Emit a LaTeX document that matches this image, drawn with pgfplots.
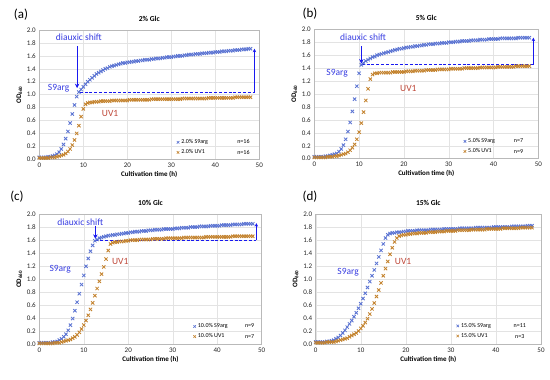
\documentclass[border=0pt]{standalone}
\usepackage{fontspec}
\setmainfont{Carlito}
\usepackage{pgfplots}
\pgfplotsset{compat=1.18}
\usepackage{pgfplotstable}
\usetikzlibrary{arrows.meta}
\definecolor{cS}{RGB}{90,115,210}
\definecolor{cU}{RGB}{195,130,45}
\definecolor{tB}{RGB}{55,60,225}
\definecolor{tR}{RGB}{190,70,55}
\definecolor{aB}{RGB}{25,25,240}

\pgfplotstableread{
t as au bs bu cs cu ds du
0 0.03 0.02 0.03 0.02 0.03 0.02 0.03 0.02
0.5 0.03 0.02 0.03 0.02 0.03 0.02 0.03 0.02
1 0.03 0.02 0.03 0.02 0.03 0.02 0.03 0.02
1.5 0.03 0.02 0.03 0.02 0.03 0.02 0.03 0.02
2 0.04 0.02 0.03 0.02 0.03 0.02 0.03 0.02
2.5 0.04 0.03 0.04 0.02 0.03 0.02 0.04 0.03
3 0.05 0.03 0.04 0.03 0.04 0.02 0.04 0.03
3.5 0.06 0.03 0.05 0.03 0.04 0.03 0.05 0.03
4 0.08 0.04 0.06 0.03 0.05 0.03 0.06 0.03
4.5 0.11 0.05 0.07 0.04 0.07 0.03 0.08 0.04
5 0.16 0.06 0.08 0.04 0.09 0.04 0.10 0.05
5.5 0.23 0.07 0.11 0.05 0.12 0.05 0.13 0.06
6 0.32 0.09 0.15 0.06 0.16 0.06 0.17 0.07
6.5 0.43 0.12 0.21 0.07 0.22 0.07 0.21 0.08
7 0.56 0.16 0.30 0.08 0.30 0.08 0.26 0.09
7.5 0.70 0.22 0.42 0.10 0.40 0.10 0.31 0.11
8 0.84 0.30 0.56 0.13 0.52 0.12 0.36 0.13
8.5 0.97 0.40 0.73 0.17 0.65 0.15 0.42 0.15
9 1.04 0.52 0.92 0.22 0.78 0.19 0.48 0.17
9.5 1.08 0.66 1.12 0.30 0.92 0.24 0.55 0.20
10 1.12 0.78 1.32 0.41 1.06 0.30 0.62 0.24
10.5 1.16 0.85 1.45 0.55 1.20 0.37 0.70 0.28
11 1.20 0.87 1.48 0.72 1.32 0.45 0.78 0.33
11.5 1.23 0.88 1.51 0.90 1.43 0.54 0.87 0.39
12 1.26 0.88 1.53 1.08 1.52 0.64 0.96 0.46
12.5 1.29 0.89 1.55 1.23 1.59 0.75 1.05 0.54
13 1.32 0.89 1.57 1.30 1.61 0.86 1.14 0.63
13.5 1.34 0.89 1.58 1.32 1.63 0.97 1.24 0.73
14 1.36 0.90 1.60 1.32 1.64 1.08 1.34 0.83
14.5 1.38 0.90 1.61 1.33 1.65 1.19 1.44 0.94
15 1.40 0.90 1.62 1.33 1.66 1.31 1.54 1.05
15.5 1.41 0.90 1.63 1.33 1.67 1.44 1.63 1.16
16 1.43 0.90 1.64 1.33 1.67 1.54 1.68 1.27
16.5 1.44 0.91 1.65 1.33 1.68 1.56 1.70 1.38
17 1.45 0.91 1.66 1.33 1.68 1.57 1.71 1.48
17.5 1.46 0.91 1.67 1.34 1.69 1.57 1.71 1.57
18 1.47 0.91 1.68 1.34 1.69 1.58 1.72 1.63
18.5 1.48 0.91 1.69 1.34 1.70 1.58 1.72 1.66
19 1.49 0.91 1.70 1.34 1.70 1.58 1.72 1.67
19.5 1.49 0.91 1.70 1.34 1.71 1.59 1.73 1.68
20 1.50 0.91 1.71 1.34 1.71 1.59 1.73 1.68
20.5 1.50 0.92 1.72 1.35 1.72 1.60 1.74 1.69
21 1.51 0.92 1.72 1.35 1.72 1.60 1.74 1.69
21.5 1.51 0.92 1.73 1.35 1.73 1.60 1.74 1.70
22 1.52 0.92 1.73 1.35 1.73 1.60 1.74 1.70
22.5 1.52 0.92 1.74 1.36 1.73 1.61 1.75 1.70
23 1.53 0.92 1.74 1.36 1.74 1.61 1.75 1.71
23.5 1.53 0.92 1.75 1.36 1.74 1.61 1.75 1.71
24 1.54 0.92 1.75 1.36 1.74 1.61 1.75 1.71
24.5 1.54 0.92 1.76 1.36 1.75 1.61 1.75 1.71
25 1.54 0.92 1.76 1.37 1.75 1.61 1.75 1.72
25.5 1.55 0.93 1.77 1.37 1.75 1.62 1.76 1.72
26 1.55 0.93 1.77 1.37 1.76 1.62 1.76 1.72
26.5 1.56 0.93 1.77 1.37 1.76 1.62 1.76 1.72
27 1.56 0.93 1.78 1.37 1.76 1.62 1.76 1.73
27.5 1.56 0.93 1.78 1.38 1.76 1.62 1.76 1.73
28 1.57 0.93 1.78 1.38 1.77 1.62 1.76 1.73
28.5 1.57 0.93 1.79 1.38 1.77 1.63 1.77 1.73
29 1.58 0.93 1.79 1.38 1.77 1.63 1.77 1.74
29.5 1.58 0.93 1.79 1.38 1.77 1.63 1.77 1.74
30 1.58 0.93 1.80 1.38 1.77 1.63 1.77 1.74
30.5 1.59 0.93 1.80 1.39 1.78 1.63 1.77 1.74
31 1.59 0.93 1.80 1.39 1.78 1.63 1.77 1.74
31.5 1.60 0.93 1.81 1.39 1.78 1.63 1.77 1.75
32 1.60 0.93 1.81 1.39 1.79 1.63 1.78 1.75
32.5 1.60 0.94 1.81 1.39 1.79 1.64 1.78 1.75
33 1.61 0.94 1.82 1.39 1.79 1.64 1.78 1.75
33.5 1.61 0.94 1.82 1.40 1.79 1.64 1.78 1.75
34 1.62 0.94 1.82 1.40 1.80 1.64 1.78 1.75
34.5 1.62 0.94 1.82 1.40 1.80 1.64 1.78 1.76
35 1.62 0.94 1.83 1.40 1.80 1.64 1.78 1.76
35.5 1.63 0.94 1.83 1.40 1.80 1.64 1.79 1.76
36 1.63 0.94 1.83 1.40 1.81 1.64 1.79 1.76
36.5 1.63 0.94 1.83 1.40 1.81 1.64 1.79 1.76
37 1.64 0.94 1.84 1.41 1.81 1.64 1.79 1.76
37.5 1.64 0.94 1.84 1.41 1.81 1.65 1.79 1.76
38 1.64 0.94 1.84 1.41 1.81 1.65 1.79 1.77
38.5 1.65 0.95 1.84 1.41 1.82 1.65 1.79 1.77
39 1.65 0.95 1.85 1.41 1.82 1.65 1.79 1.77
39.5 1.65 0.95 1.85 1.41 1.82 1.65 1.80 1.77
40 1.66 0.95 1.85 1.41 1.82 1.65 1.80 1.77
40.5 1.66 0.95 1.85 1.41 1.82 1.65 1.80 1.77
41 1.66 0.95 1.85 1.42 1.83 1.65 1.80 1.77
41.5 1.67 0.95 1.86 1.42 1.83 1.65 1.80 1.78
42 1.67 0.95 1.86 1.42 1.83 1.65 1.80 1.78
42.5 1.67 0.95 1.86 1.42 1.83 1.65 1.80 1.78
43 1.68 0.95 1.86 1.42 1.83 1.65 1.80 1.78
43.5 1.68 0.95 1.86 1.42 1.84 1.66 1.81 1.78
44 1.68 0.95 1.86 1.42 1.84 1.66 1.81 1.78
44.5 1.69 0.96 1.86 1.42 1.84 1.66 1.81 1.78
45 1.69 0.96 1.86 1.43 1.84 1.66 1.81 1.78
45.5 1.69 0.96 1.87 1.43 1.84 1.66 1.81 1.79
46 1.70 0.96 1.87 1.43 1.85 1.66 1.81 1.79
46.5 1.70 0.96 1.87 1.43 1.85 1.66 1.81 1.79
47 1.70 0.96 1.87 1.43 1.85 1.66 1.82 1.79
47.5 1.71 0.96 1.87 1.43 1.85 1.66 1.82 1.79
48 1.71 0.96 1.87 1.43 1.85 1.66 1.82 1.79
}\growth

\pgfplotsset{
  panel/.style={
    scale only axis, anchor=south west,
    xmin=0, xmax=50, ymin=0, ymax=2,
    xtick={0,10,20,30,40,50},
    ytick={0,0.2,0.4,0.6,0.8,1.0,1.2,1.4,1.6,1.8,2.0},
    yticklabel style={/pgf/number format/.cd, fixed, fixed zerofill, precision=1},
    /pgf/number format/assume math mode=true,
    grid=major, grid style={gray!22, line width=0.4pt},
    axis line style={gray!55, line width=0.5pt},
    major tick length=0pt,
    ticklabel style={font=\fontsize{7}{8}\selectfont, text=black!85},
    xlabel={\textbf{Cultivation time (h)}},
    ylabel={\textbf{OD$_{\mathbf{660}}$}},
    label style={font=\fontsize{7}{8}\selectfont},
    xlabel style={yshift=3pt},
    ylabel style={yshift=-2pt},
    title style={font=\bfseries\fontsize{7.5}{8}\selectfont, yshift=-1pt},
    clip=false,
    legend cell align=left,
    legend image post style={line width=0.6pt, mark size=1.8pt},
  },
  serS/.style={only marks, mark=x, mark size=2.3pt, color=cS, line width=0.85pt},
  serU/.style={only marks, mark=x, mark size=2.3pt, color=cU, line width=0.85pt},
  leg/.style={draw=none, fill=none, font=\fontsize{6}{6.5}\selectfont, inner sep=0pt, row sep=0.5pt, anchor=north west, at={#1}},
}
\tikzset{
  ann/.style={font=\fontsize{9.5}{10}\selectfont},
  nn/.style={font=\fontsize{6}{6.5}\selectfont},
  arr/.style={aB, line width=1.2pt, -{Stealth[length=4.5pt,width=4.5pt]}},
  arrs/.style={aB, line width=0.9pt, -{Stealth[length=3.5pt,width=3.5pt]}},
  dsh/.style={aB, line width=0.9pt, dash pattern=on 3pt off 1.8pt},
}

\begin{document}
\begin{tikzpicture}
\path[use as bounding box] (0,0) rectangle (550pt,380pt);

% (a)
\begin{axis}[panel, at={(39.3pt,220.7pt)}, width=220pt, height=129.3pt,
  title={2\% Glc}, legend style={leg={(axis cs:31.2,0.34)}}]
\addplot[serS] table[x=t,y=as]{\growth}; \addlegendentry{2.0\% S9arg}
\addplot[serU] table[x=t,y=au]{\growth}; \addlegendentry{2.0\% UV1}
\node[nn] at (axis cs:46.4,0.27) {n=16};
\node[nn] at (axis cs:46.4,0.105) {n=16};
\node[ann, text=tB] at (axis cs:9.0,1.89) {diauxic shift};
\draw[arr] (axis cs:8.6,1.75) -- (axis cs:8.6,1.1);
\node[ann, text=tB] at (axis cs:4.4,1.10) {S9arg};
\draw[dsh] (axis cs:9.2,1.03) -- (axis cs:48.9,1.03);
\draw[arrs] (axis cs:48.9,1.03) -- (axis cs:48.9,1.71);
\node[ann, text=tR] at (axis cs:16.1,0.71) {UV1};
\end{axis}

% (b)
\begin{axis}[panel, at={(314.3pt,221.3pt)}, width=224pt, height=129.4pt,
  title={5\% Glc}, legend style={leg={(axis cs:33.3,0.345)}}]
\addplot[serS] table[x=t,y=bs]{\growth}; \addlegendentry{5.0\% S9arg}
\addplot[serU] table[x=t,y=bu]{\growth}; \addlegendentry{5.0\% UV1}
\node[nn] at (axis cs:45.6,0.28) {n=7};
\node[nn] at (axis cs:45.6,0.105) {n=9};
\node[ann, text=tB] at (axis cs:10.9,1.88) {diauxic shift};
\draw[arr] (axis cs:10.5,1.74) -- (axis cs:10.5,1.47);
\node[ann, text=tB] at (axis cs:5.1,1.32) {S9arg};
\draw[dsh] (axis cs:10.6,1.45) -- (axis cs:48.9,1.45);
\draw[arrs] (axis cs:48.9,1.45) -- (axis cs:48.9,1.87);
\node[ann, text=tR] at (axis cs:21,1.09) {UV1};
\end{axis}

% (c)
\begin{axis}[panel, at={(39.3pt,35.3pt)}, width=222.4pt, height=130.7pt,
  title={10\% Glc}, legend style={leg={(axis cs:34.6,0.355)}}]
\addplot[serS] table[x=t,y=cs]{\growth}; \addlegendentry{10.0\% S9arg}
\addplot[serU] table[x=t,y=cu]{\growth}; \addlegendentry{10.0\% UV1}
\node[nn] at (axis cs:47.3,0.29) {n=9};
\node[nn] at (axis cs:47.3,0.12) {n=7};
\node[ann, text=tB] at (axis cs:9.2,1.88) {diauxic shift};
\draw[arr] (axis cs:12.6,1.82) -- (axis cs:12.6,1.62);
\node[ann, text=tB] at (axis cs:4.7,1.15) {S9arg};
\draw[dsh] (axis cs:12.6,1.60) -- (axis cs:48.8,1.60);
\draw[arrs] (axis cs:48.8,1.60) -- (axis cs:48.8,1.86);
\node[ann, text=tR] at (axis cs:18.2,1.27) {UV1};
\end{axis}

% (d)
\begin{axis}[panel, at={(315.7pt,36pt)}, width=225.3pt, height=130pt,
  title={15\% Glc}, legend style={leg={(axis cs:31.2,0.355)}}]
\addplot[serS] table[x=t,y=ds]{\growth}; \addlegendentry{15.0\% S9arg}
\addplot[serU] table[x=t,y=du]{\growth}; \addlegendentry{15.0\% UV1}
\node[nn] at (axis cs:45.3,0.29) {n=11};
\node[nn] at (axis cs:45.3,0.115) {n=3};
\node[ann, text=tB] at (axis cs:7.2,1.11) {S9arg};
\node[ann, text=tR] at (axis cs:19.4,1.27) {UV1};
\end{axis}

\node[font=\fontsize{13}{14}\selectfont] at (21pt,365pt) {(a)};
\node[font=\fontsize{13}{14}\selectfont] at (310pt,366pt) {(b)};
\node[font=\fontsize{13}{14}\selectfont] at (17pt,183pt) {(c)};
\node[font=\fontsize{13}{14}\selectfont] at (310pt,183pt) {(d)};
\end{tikzpicture}
\end{document}
